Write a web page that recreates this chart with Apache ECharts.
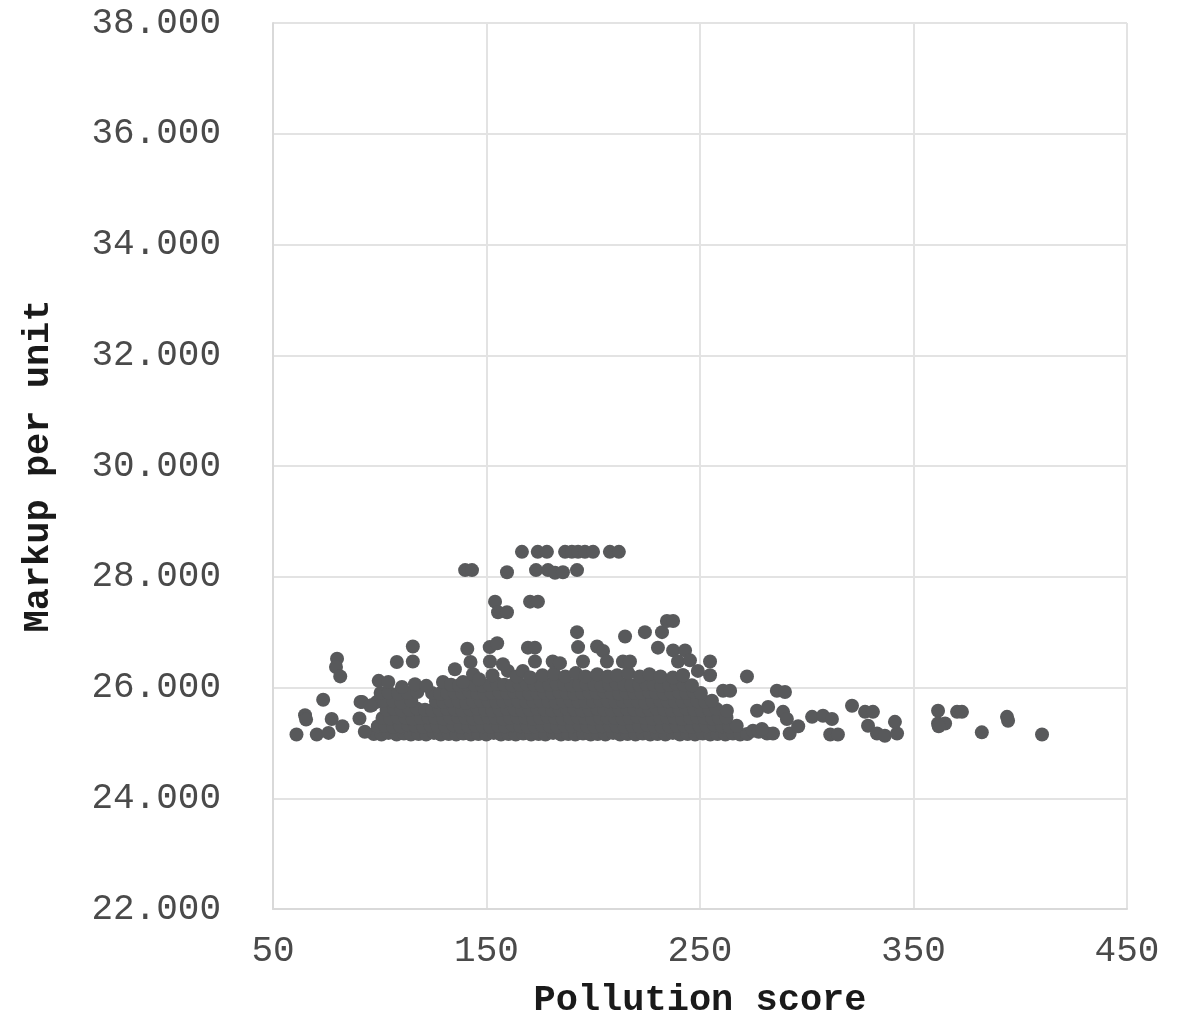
<!DOCTYPE html>
<html>
<head>
<meta charset="utf-8">
<script src="https://cdn.jsdelivr.net/npm/echarts@6/dist/echarts.min.js"></script>
<style>
html,body{margin:0;padding:0;background:#fff;}
#chart{width:1183px;height:1024px;}
</style>
</head>
<body>
<div id="chart"></div>
<script>
const xTicks = [50, 150, 250, 350, 450];
const yTicks = [22, 24, 26, 28, 30, 32, 34, 36, 38];
const xTitle = 'Pollution score';
const yTitle = 'Markup per unit';

// [pollution score, markup per unit]
const bottomRow = [[97.2,25.16],[100.8,25.15],[104.1,25.18],[107.9,25.15],[111.3,25.17],[114.6,25.15],[118.2,25.16],[121.7,25.15],[125.4,25.18],[128.6,25.15],[132.3,25.16],[135.8,25.15],[139.1,25.17],[142.7,25.15],[146.2,25.16],[149.9,25.15],[153.4,25.18],[156.8,25.15],[160.3,25.16],[163.7,25.15],[167.2,25.17],[170.9,25.15],[174.4,25.16],[177.6,25.15],[181.2,25.18],[184.9,25.15],[188.3,25.16],[191.6,25.15],[195.2,25.17],[198.8,25.15],[202.1,25.16],[205.7,25.15],[209.3,25.18],[212.6,25.15],[216.1,25.16],[219.8,25.15],[223.2,25.17],[226.7,25.15],[230.1,25.16],[233.8,25.15],[237.3,25.18],[240.6,25.15],[244.2,25.16],[247.7,25.15],[251.3,25.17],[254.8,25.15],[258.2,25.16],[261.9,25.15],[265.4,25.17],[268.8,25.15],[272.1,25.16]];
const row30 = [[99.1,25.3],[102.6,25.31],[106.2,25.29],[109.7,25.3],[113.3,25.32],[116.8,25.3],[120.4,25.29],[123.9,25.31],[127.2,25.3],[130.8,25.3],[134.5,25.32],[137.9,25.29],[141.4,25.3],[144.9,25.31],[148.3,25.3],[151.8,25.29],[155.4,25.31],[158.7,25.3],[162.2,25.32],[165.8,25.3],[169.3,25.29],[172.6,25.3],[176.1,25.31],[179.7,25.3],[183.2,25.29],[186.6,25.31],[190.2,25.3],[193.7,25.32],[197.3,25.3],[200.6,25.29],[204.2,25.3],[207.8,25.31],[211.1,25.3],[214.7,25.29],[218.2,25.31],[221.6,25.3],[225.3,25.32],[228.7,25.3],[232.1,25.29],[235.7,25.3],[239.2,25.31],[242.8,25.3],[246.1,25.29],[249.6,25.31],[253.2,25.3],[256.8,25.32],[260.3,25.3],[263.7,25.29],[267.2,25.31]];
const row45 = [[101.3,25.45],[104.9,25.44],[108.4,25.46],[112.1,25.45],[115.5,25.43],[119.2,25.45],[122.6,25.46],[126.1,25.45],[129.7,25.44],[133.2,25.45],[136.6,25.47],[140.3,25.45],[143.8,25.44],[147.2,25.45],[150.7,25.46],[154.3,25.45],[157.8,25.43],[161.2,25.45],[164.6,25.46],[168.3,25.45],[171.8,25.44],[175.2,25.45],[178.7,25.47],[182.3,25.45],[185.7,25.44],[189.2,25.45],[192.8,25.46],[196.1,25.45],[199.7,25.43],[203.3,25.45],[206.6,25.46],[210.2,25.45],[213.8,25.44],[217.1,25.45],[220.7,25.47],[224.2,25.45],[227.8,25.44],[231.2,25.45],[234.6,25.46],[238.2,25.45],[241.7,25.43],[245.3,25.45],[248.6,25.46],[252.2,25.45],[255.8,25.44],[259.1,25.45],[262.4,25.46]];
const row60 = [[103.2,25.6],[106.8,25.61],[110.3,25.59],[113.9,25.6],[117.4,25.62],[121.2,25.6],[124.6,25.59],[128.1,25.6],[131.7,25.61],[135.2,25.6],[138.6,25.59],[142.2,25.6],[145.8,25.62],[149.3,25.6],[152.7,25.59],[156.2,25.6],[159.8,25.61],[163.3,25.6],[166.7,25.59],[170.2,25.6],[173.8,25.62],[177.3,25.6],[180.7,25.59],[184.2,25.6],[187.8,25.61],[191.2,25.6],[194.7,25.59],[198.3,25.6],[201.8,25.62],[205.2,25.6],[208.7,25.59],[212.3,25.6],[215.8,25.61],[219.2,25.6],[222.8,25.59],[226.3,25.6],[229.7,25.62],[233.2,25.6],[236.8,25.59],[240.3,25.6],[243.7,25.61],[247.2,25.6],[250.8,25.59],[254.3,25.6],[257.8,25.61],[262.6,25.58]];
const row75 = [[96.2,25.68],[98.6,25.74],[101.9,25.76],[106.4,25.75],[110.2,25.73],[114.8,25.76],[126.3,25.75],[129.8,25.74],[133.3,25.76],[136.9,25.75],[140.4,25.73],[143.9,25.75],[147.4,25.76],[150.9,25.75],[154.5,25.74],[157.9,25.75],[161.4,25.77],[164.9,25.75],[168.5,25.74],[171.9,25.75],[175.4,25.76],[178.9,25.75],[182.5,25.73],[185.9,25.75],[189.4,25.76],[192.9,25.75],[196.5,25.74],[199.9,25.75],[203.4,25.77],[206.9,25.75],[210.5,25.74],[213.9,25.75],[217.4,25.76],[220.9,25.75],[224.5,25.73],[227.9,25.75],[231.4,25.76],[234.9,25.75],[238.5,25.74],[241.9,25.75],[245.4,25.77],[248.9,25.75],[252.5,25.74],[255.6,25.76]];
const row90 = [[100.4,25.9],[104.2,25.91],[108.7,25.89],[113.1,25.9],[117.6,25.92],[124.5,25.9],[128.2,25.89],[131.6,25.9],[135.1,25.91],[138.7,25.9],[142.1,25.92],[145.6,25.9],[149.1,25.89],[152.7,25.9],[156.1,25.91],[159.6,25.9],[163.1,25.92],[166.7,25.9],[170.1,25.89],[173.6,25.9],[177.1,25.91],[180.7,25.9],[184.1,25.92],[187.6,25.9],[191.1,25.89],[194.7,25.9],[198.1,25.91],[201.6,25.9],[205.1,25.92],[208.7,25.9],[212.1,25.89],[215.6,25.9],[219.1,25.91],[222.7,25.9],[226.1,25.92],[229.6,25.9],[233.1,25.89],[236.7,25.9],[240.1,25.91],[243.6,25.9],[247.1,25.92],[250.4,25.9]];
const row105 = [[110.4,26.01],[116.5,26.06],[121.8,26.03],[129.6,26.1],[133.4,26.05],[137.2,26.04],[140.8,26.06],[144.3,26.05],[147.9,26.03],[151.4,26.05],[154.9,26.07],[158.4,26.05],[161.9,26.04],[165.5,26.05],[168.9,26.06],[172.4,26.05],[175.9,26.03],[179.5,26.05],[182.9,26.07],[186.4,26.05],[189.9,26.04],[193.5,26.05],[196.9,26.06],[200.4,26.05],[203.9,26.03],[207.5,26.05],[210.9,26.07],[214.4,26.05],[217.9,26.04],[221.5,26.05],[224.9,26.06],[228.4,26.05],[231.9,26.03],[235.5,26.05],[238.9,26.07],[242.4,26.05],[246.2,26.04]];
const row120 = [[139,26.1],[143.7,26.24],[146.5,26.15],[152.8,26.22],[160,26.3],[164.1,26.2],[167,26.3],[170.5,26.18],[176.2,26.22],[181.6,26.25],[186.9,26.2],[191.8,26.26],[196.4,26.2],[201.9,26.24],[206.8,26.2],[211.2,26.22],[216.4,26.26],[221.8,26.2],[226.3,26.24],[231.5,26.2],[237.3,26.18],[242,26.22],[249,26.3],[254.7,26.22]];
const leftPoints = [[61,25.15],[70.5,25.15],[65,25.5],[65.5,25.42],[73.5,25.78],[80,26.52],[79.5,26.37],[81.5,26.2],[77.5,25.43],[76,25.18],[82.5,25.3],[91,25.74],[90.5,25.44],[93,25.2],[91.7,25.74],[95.5,25.67],[99.5,26.12],[104,26.1],[108,26.46],[115.5,26.74],[115.5,26.47],[135.2,26.33],[141,26.7],[142.5,26.46],[151.5,26.73],[155,26.8],[151.6,26.47],[157.7,26.42],[169.4,26.72],[172.7,26.72],[172.7,26.47],[181,26.47],[184.4,26.44]];
const upperPoints = [[166.6,28.45],[174,28.45],[178.3,28.45],[186.8,28.45],[190,28.45],[192.9,28.45],[196.1,28.45],[199.9,28.45],[207.8,28.45],[212,28.45],[140,28.12],[143.2,28.12],[159.6,28.08],[173.2,28.12],[178.8,28.12],[182.1,28.07],[185.8,28.08],[192.4,28.12],[154,27.55],[155.4,27.36],[159.6,27.36],[170.4,27.55],[174.1,27.55],[192.4,27.0],[214.9,26.92],[224.2,27.0],[232.2,27.0],[234.5,27.2],[237.4,27.2],[192.9,26.73],[201.8,26.74],[204.6,26.66],[230.3,26.72],[237.4,26.67],[243,26.67],[195.2,26.47],[206.4,26.47],[213.9,26.47],[217.2,26.47],[239.7,26.47],[245.3,26.49],[254.7,26.47]];
const tailPoints = [[242,26.22],[272,26.2],[286,25.94],[289.8,25.92],[260.8,25.94],[264.1,25.94],[276.7,25.58],[281.9,25.65],[288.9,25.56],[290.7,25.43],[292,25.17],[296,25.3],[302.5,25.47],[307.6,25.49],[311.8,25.43],[311,25.15],[314.6,25.15],[321.2,25.67],[274.8,25.22],[281.4,25.17],[277.5,25.2],[284.2,25.17],[279,25.25],[327.3,25.56],[331,25.56],[328.7,25.31],[332.9,25.17],[336.6,25.13],[342.3,25.17],[341.3,25.38],[361.5,25.58],[361.5,25.35],[364.8,25.35],[361.8,25.3],[370.4,25.56],[372.7,25.56],[382,25.19],[393.8,25.47],[394.3,25.4],[410.2,25.15]];

const allPoints = [].concat(bottomRow, row30, row45, row60, row75, row90, row105, row120, leftPoints, upperPoints, tailPoints);

const chart = echarts.init(document.getElementById('chart'), null, {renderer: 'canvas'});
const monoFont = "'Courier New', 'Liberation Mono', monospace";
chart.setOption({
  animation: false,
  backgroundColor: '#ffffff',
  grid: {left: 273, right: 56, top: 23, bottom: 107, containLabel: false},
  xAxis: {
    type: 'value',
    min: xTicks[0], max: xTicks[xTicks.length - 1], interval: 100,
    name: xTitle, nameLocation: 'middle', nameGap: 73,
    nameTextStyle: {fontFamily: monoFont, fontWeight: 'bold', fontSize: 37, color: '#1a1a1a'},
    axisLine: {show: true, lineStyle: {color: '#d9d9d9', width: 2}},
    axisTick: {show: false},
    axisLabel: {margin: 24, fontFamily: monoFont, fontSize: 36, color: '#4a4a4a'},
    splitLine: {show: true, lineStyle: {color: '#e3e3e3', width: 2}}
  },
  yAxis: {
    type: 'value',
    min: yTicks[0], max: yTicks[yTicks.length - 1], interval: 2,
    name: yTitle, nameLocation: 'middle', nameGap: 216,
    nameTextStyle: {fontFamily: monoFont, fontWeight: 'bold', fontSize: 37, color: '#1a1a1a'},
    axisLine: {show: true, lineStyle: {color: '#d9d9d9', width: 2}},
    axisTick: {show: false},
    axisLabel: {margin: 52, fontFamily: monoFont, fontSize: 36, color: '#4a4a4a',
      formatter: v => v.toFixed(3)},
    splitLine: {show: true, lineStyle: {color: '#e3e3e3', width: 2}}
  },
  series: [{
    type: 'scatter',
    data: allPoints,
    symbolSize: 14,
    itemStyle: {color: '#58595b', opacity: 1},
    emphasis: {disabled: true}
  }]
});
</script>
</body>
</html>
